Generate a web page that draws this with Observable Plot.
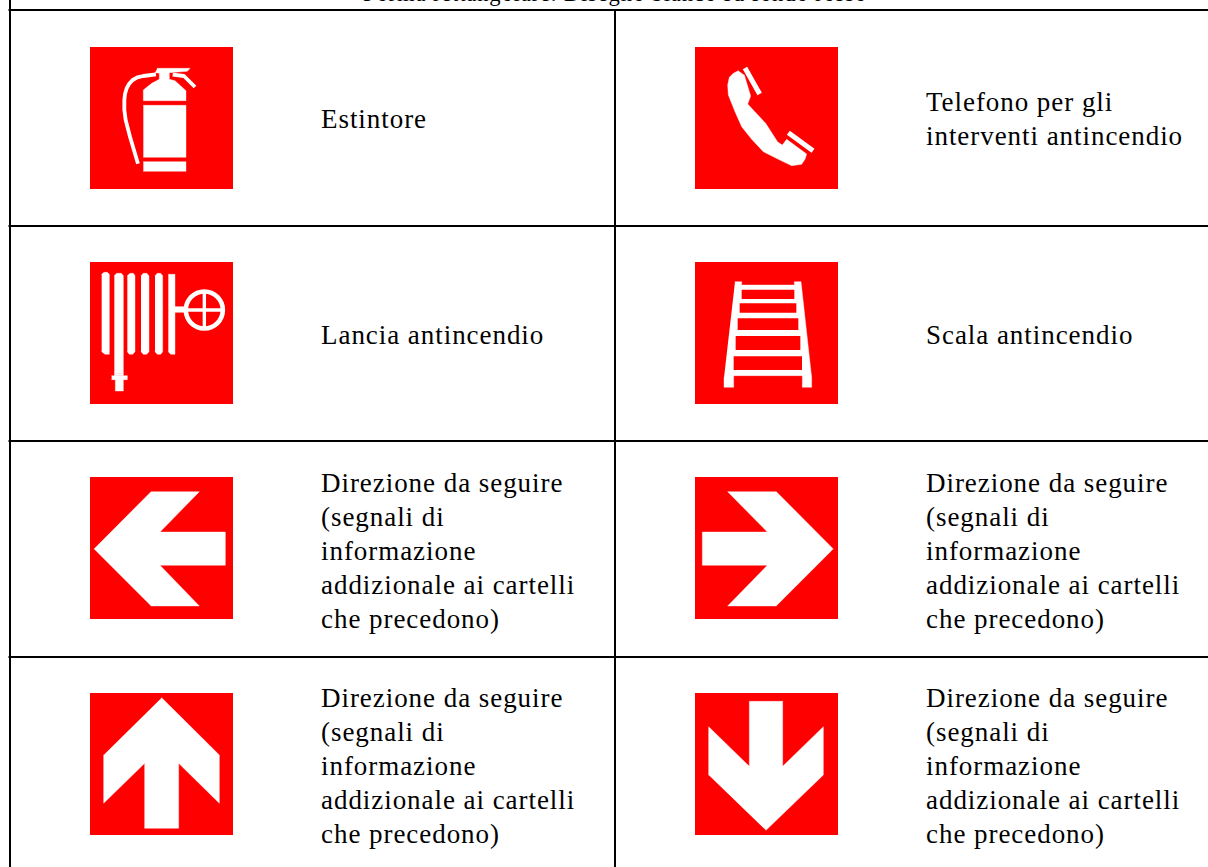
<!DOCTYPE html>
<html lang="it"><head><meta charset="utf-8">
<script src="https://cdn.jsdelivr.net/npm/d3@7"></script>
<script src="https://cdn.jsdelivr.net/npm/@observablehq/plot@0.6"></script>
<style>html,body{margin:0;padding:0;background:#fff;overflow:hidden}svg{display:block}
g[font-size="22.67"]{letter-spacing:.82px}
g[font-size="27"]{letter-spacing:.95px}
</style>
</head><body><div id="chart"></div>
<script>
const colOrigin = [80, 685];
const rowOrigin = [40, 255, 470, 686];
const direzione = ["Direzione da seguire","(segnali di","informazione","addizionale ai cartelli","che precedono)"];
const labels = [
  ["Estintore"],["Telefono per gli","interventi antincendio"],
  ["Lancia antincendio"],["Scala antincendio"],
  direzione,direzione,direzione,direzione
];
const titleText = "Forma rettangolare. Disegno bianco su fondo rosso";
const hLines = [10, 226, 441, 657];
const vLines = [10, 615];
// icon outlines, in local units of 1/3 pixel from each icon's cell corner
const square = [[30,21],[459,21],[459,447],[30,447]];
const extinguisherFill = [
 [[232,85],[330,85],[322,94],[268,98],[268,118],[285,122],[318,152],[318,182],[190,182],[190,150],[215,130],[238,118],[238,100],[225,98]],
 [[190,196],[318,196],[318,352],[190,352]],
 [[190,365],[318,365],[318,394],[190,394]]
];
const extinguisherStroke = [
 [[278,104],[312,108],[345,141]],
 [[228,103],[190,108],[172,112],[158,120],[147,132],[140,145],[135,162],[133,180],[133,210],[137,240],[150,290],[174,371]]
];
const phoneFill = [[[160,92],[145,100],[133,112],[128,135],[130,165],[150,215],[170,260],[200,298],[235,335],[280,358],[320,377],[350,373],[360,358],[365,342],[305,298],[292,315],[278,306],[242,250],[188,192],[197,168],[178,105]]];
const phoneStroke = [[[180,84],[224,162]],[[310,278],[384,332]]];
const hoseFill = [
 [[65,58],[72,52],[82,52],[88,58],[88,298],[75,298],[65,290]],
 [[103,62],[110,55],[124,55],[130,62],[130,355],[103,355]],
 [[142,62],[150,55],[160,55],[165,62],[165,290],[158,298],[148,298],[142,290]],
 [[183,62],[190,55],[200,55],[207,62],[207,290],[200,298],[190,298],[183,290]],
 [[225,62],[232,55],[242,55],[248,62],[248,290],[242,298],[232,298],[225,290]],
 [[265,58],[285,58],[285,298],[272,298],[265,290]],
 [[285,155],[318,155],[318,172],[285,172]],
 [[95,362],[142,362],[142,374],[130,374],[130,408],[106,408],[106,374],[95,374]],
 [[103,355],[130,355],[130,362],[103,362]]
];
const wheelCentre = [[373,165]];
const wheelCross = [[[312,165],[434,165]],[[373,105],[373,225]]];
const ladderFill = [[[150,80],[170,80],[170,90],[328,90],[328,80],[348,80],[380,368],[380,397],[352,397],[352,362],[146,362],[146,397],[117,397],[117,368]]];
const ladderGaps = [
 [[170,104],[328,104],[328,132],[170,132]],
 [[164,145],[334,145],[334,173],[164,173]],
 [[158,190],[340,190],[340,225],[158,225]],
 [[152,243],[346,243],[346,285],[152,285]],
 [[146,304],[351,304],[351,345],[146,345]]
];
const arrowLeft = [[[42,237],[213,65],[358,65],[240,186],[436,186],[436,286],[240,286],[358,408],[213,408]]];
const arrowRight = [[[445,237],[274,65],[128,65],[247,186],[52,186],[52,286],[247,286],[128,408],[274,408]]];
const arrowUp = [[[245,35],[418,207],[418,352],[296,232],[296,427],[194,427],[194,232],[71,352],[71,207]]];
const arrowDown = [[[243,433],[415,267],[415,122],[293,241],[293,46],[193,46],[193,241],[71,122],[71,267]]];

const red = "#ff0000", white = "#ffffff";
const icons = [
 [0,0,extinguisherFill,extinguisherStroke,[],3.8],
 [1,0,phoneFill,phoneStroke,[],5],
 [0,1,hoseFill,wheelCross,[],3.4],
 [1,1,ladderFill,[],ladderGaps,0],
 [0,2,arrowLeft,[],[],0],
 [1,2,arrowRight,[],[],0],
 [0,3,arrowUp,[],[],0],
 [1,3,arrowDown,[],[],0]
];
let id = 0;
const toRows = (shape,c,r) => { const z = id++; return shape.map(([u,v]) => ({x: colOrigin[c]+u/3, y: rowOrigin[r]+v/3, z})); };
const squares=[], whites=[], gaps=[], strokes=[];
icons.forEach(([c,r,f,s,g,w]) => {
  squares.push(...toRows(square,c,r));
  f.forEach(p => whites.push(...toRows(p,c,r)));
  g.forEach(p => gaps.push(...toRows(p,c,r)));
  s.forEach(p => strokes.push(...toRows(p,c,r).map(d => ({...d, w}))));
});
const wheel = wheelCentre.map(([u,v]) => ({x: colOrigin[0]+u/3, y: rowOrigin[1]+v/3}));
const lineH = 34;
const textRows = [];
const centres = [119, 119, 335, 335, 551, 551, 766, 766];
labels.forEach((lines,i) => {
  lines.forEach((t,k) => textRows.push({t, x: i%2===0?321:926, y: centres[i]+(k-(lines.length-1)/2)*lineH}));
});
const common = {x:"x", y:"y", z:"z", curve:"linear"};
const plot = Plot.plot({
  width:1208, height:867, margin:0,
  x:{domain:[0,1208], range:[-0.5,1207.5], axis:null},
  y:{domain:[0,867], range:[-0.5,866.5], axis:null},
  marks:[
    Plot.line(squares, {...common, fill:red, stroke:"none"}),
    Plot.line(whites, {...common, fill:white, stroke:white, strokeWidth:0.4}),
    Plot.line(gaps, {...common, fill:red, stroke:"none"}),
    Plot.line(strokes, {...common, stroke:white, strokeWidth:"w", strokeLinecap:"butt"}),
    Plot.dot(wheel, {x:"x", y:"y", r:18.5, stroke:white, strokeWidth:4.6, fill:"none"}),
    Plot.ruleY(hLines, {y:d=>d, x1:9, x2:1210, stroke:"#000", strokeWidth:2}),
    Plot.ruleX(vLines, {x:d=>d, y1:10, y2:869, stroke:"#000", strokeWidth:2}),
    Plot.ruleX([10], {x:d=>d, y1:-1, y2:10, stroke:"#000", strokeWidth:2}),
    Plot.text([titleText], {x:615, y:-6.5, text:d=>d, fontFamily:"Liberation Serif", fontSize:22.67, fill:"#000", textAnchor:"middle"}),
    Plot.text(textRows, {x:"x", y:"y", text:"t", textAnchor:"start", fontFamily:"Liberation Serif", fontSize:27, fill:"#000"})
  ]
});
document.getElementById("chart").append(plot);
</script></body></html>
